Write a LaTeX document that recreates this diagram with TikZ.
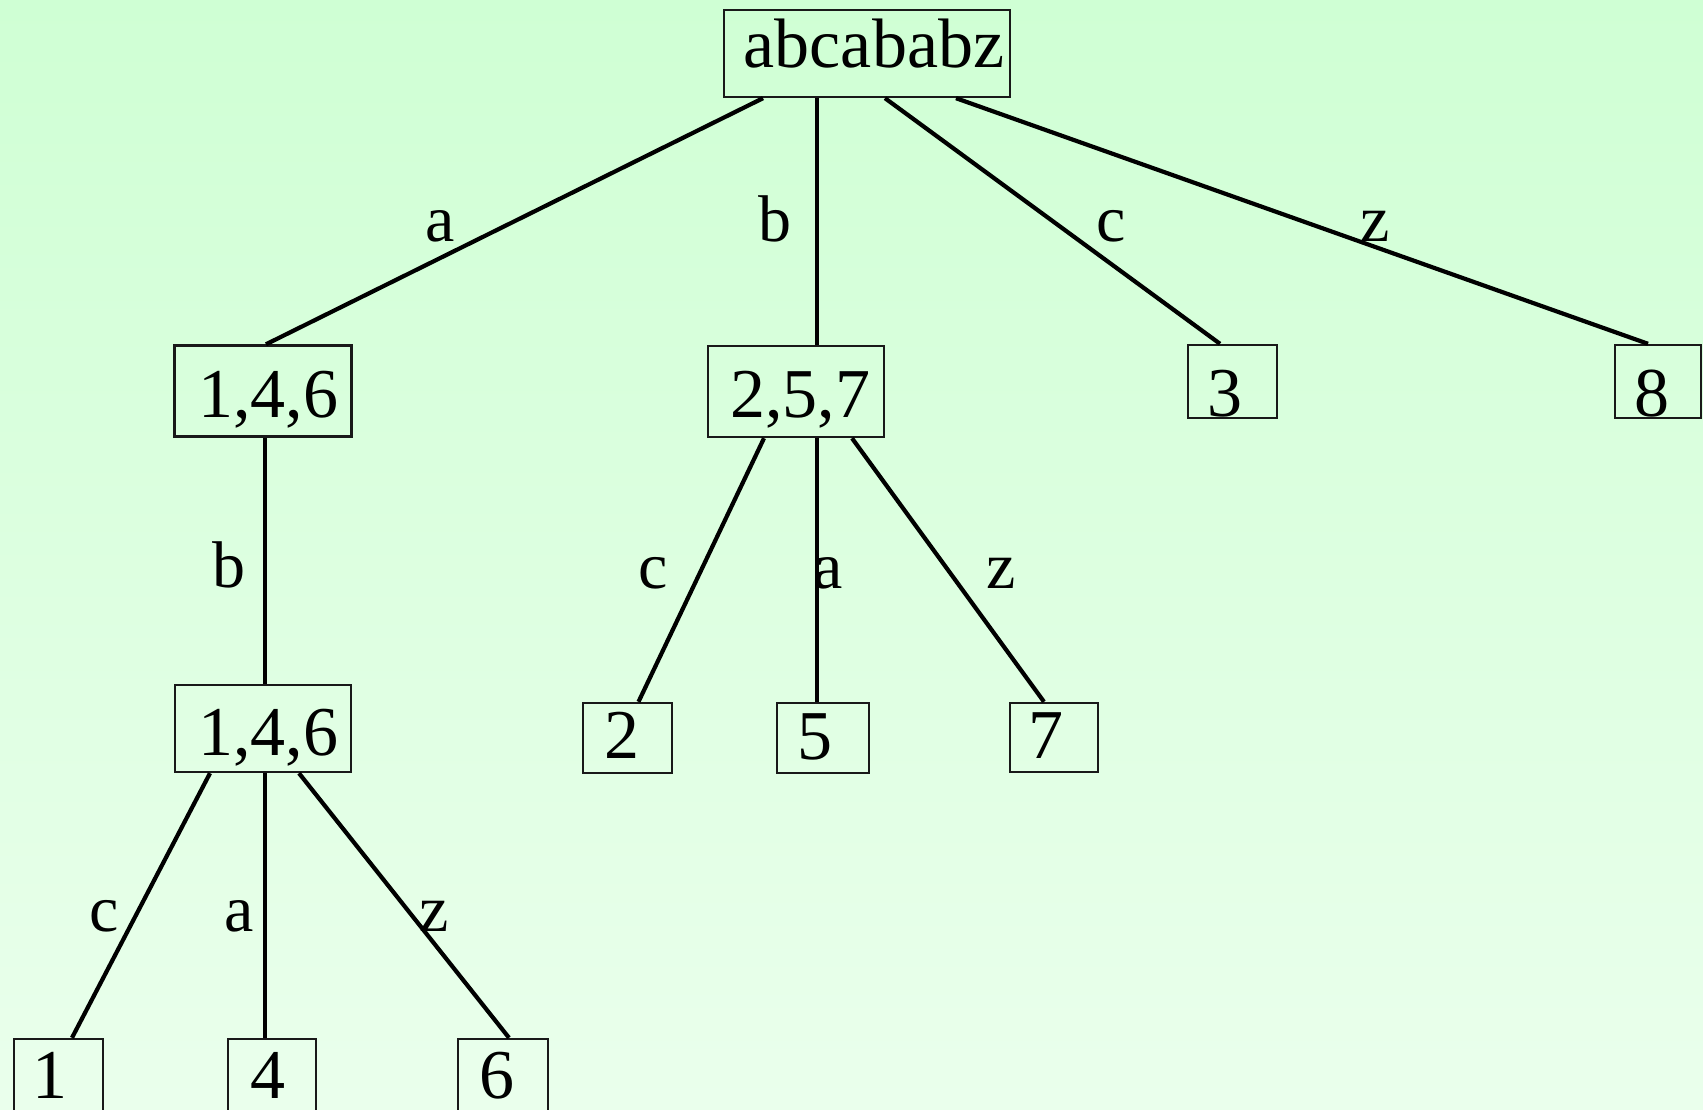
\documentclass[tikz,border=0pt]{standalone}
\usepackage{fontspec}
\setmainfont{Liberation Serif}
\definecolor{bgtop}{RGB}{207,255,212}
\definecolor{bgbot}{RGB}{234,255,236}
\begin{document}
\begin{tikzpicture}[x=1pt,y=-1pt,
  box/.style={draw=black!90, line width=2.4pt, inner sep=0pt, rectangle},
  txt/.style={anchor=base, inner sep=0pt, font=\fontsize{70}{84}\selectfont},
  lbl/.style={anchor=base, inner sep=0pt, font=\fontsize{66}{78}\selectfont},
  edge/.style={line width=4.2pt}]
\useasboundingbox (0,0) rectangle (1703,1110);
\shade[top color=bgtop, bottom color=bgbot] (0,0) rectangle (1703,1110);

% boxes
\node[box, minimum width=286pt, minimum height=87pt] (root) at (867,53.5) {};
\node[box, minimum width=177pt, minimum height=91pt] (A) at (263,391) {};
\node[box, minimum width=176pt, minimum height=91pt] (B) at (796,391.5) {};
\node[box, minimum width=89pt, minimum height=73pt] (n3) at (1232.5,381.5) {};
\node[box, minimum width=86pt, minimum height=73pt] (n8) at (1658,381.5) {};
\node[box, minimum width=176pt, minimum height=87pt] (C) at (263,728.5) {};
\node[box, minimum width=89pt, minimum height=70pt] (n2) at (627.5,738) {};
\node[box, minimum width=92pt, minimum height=70pt] (n5) at (823,738) {};
\node[box, minimum width=88pt, minimum height=69pt] (n7) at (1054,737.5) {};
\node[box, minimum width=89pt, minimum height=74pt] (n1) at (58.5,1076) {};
\node[box, minimum width=88pt, minimum height=74pt] (n4) at (272,1076) {};
\node[box, minimum width=90pt, minimum height=74pt] (n6) at (503,1076) {};

% box texts
\node[txt] (troot) at (874,68) {abcababz};
\node[txt] (tA) at (268,417) {1,4,6};
\node[txt] (tB) at (800,417) {2,5,7};
\node[txt] (t3) at (1225,416) {3};
\node[txt] (t8) at (1652,416) {8};
\node[txt] (tC) at (268,755) {1,4,6};
\node[txt] (t2) at (622,758) {2};
\node[txt] (t5) at (815,759) {5};
\node[txt] (t7) at (1046,758) {7};
\node[txt] (t1) at (50,1098) {1};
\node[txt] (t4) at (268,1098) {4};
\node[txt] (t6) at (497,1098) {6};

% connectors
\draw[edge] ([xshift=-104pt]root.south) -- ([xshift=3pt]A.north);
\draw[edge] ([xshift=-50pt]root.south) -- ([xshift=21pt]B.north);
\draw[edge] ([xshift=18pt]root.south) -- ([xshift=-12.5pt]n3.north);
\draw[edge] ([xshift=89pt]root.south) -- ([xshift=-10pt]n8.north);
\draw[edge] ([xshift=2pt]A.south) -- ([xshift=2pt]C.north);
\draw[edge] ([xshift=-32pt]B.south) -- ([xshift=11pt]n2.north);
\draw[edge] ([xshift=21pt]B.south) -- ([xshift=-6pt]n5.north);
\draw[edge] ([xshift=56pt]B.south) -- ([xshift=-10pt]n7.north);
\draw[edge] ([xshift=-53pt]C.south) -- ([xshift=13.5pt]n1.north);
\draw[edge] ([xshift=2pt]C.south) -- ([xshift=-7pt]n4.north);
\draw[edge] ([xshift=36pt]C.south) -- ([xshift=6pt]n6.north);

% connector labels
\node[lbl] (la) at (440,241) {a};
\node[lbl] (lb) at (775,241) {b};
\node[lbl] (lc) at (1111,241) {c};
\node[lbl] (lz) at (1375,241) {z};
\node[lbl] (lAC) at (229,587) {b};
\node[lbl] (lB2) at (653,588) {c};
\node[lbl] (lB5) at (828,588) {a};
\node[lbl] (lB7) at (1001,588) {z};
\node[lbl] (lC1) at (104,931) {c};
\node[lbl] (lC4) at (239,931) {a};
\node[lbl] (lC6) at (434,931) {z};
\end{tikzpicture}
\end{document}
